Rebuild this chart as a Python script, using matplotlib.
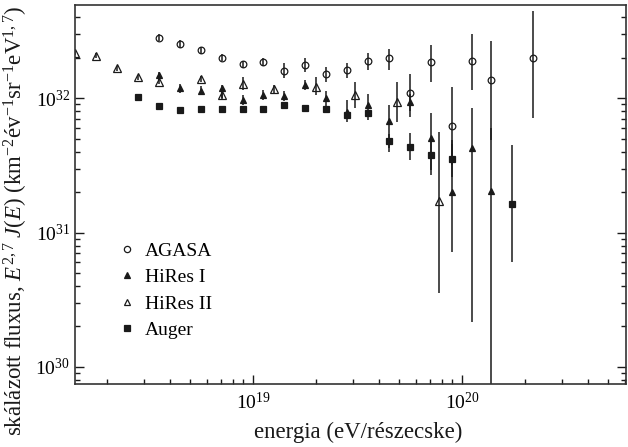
import numpy as np
import matplotlib.pyplot as plt
from matplotlib.lines import Line2D
from matplotlib.ticker import LogLocator, LogFormatterMathtext, NullFormatter

plt.rcParams['font.family'] = ['Liberation Serif', 'DejaVu Serif']
plt.rcParams['mathtext.fontset'] = 'custom'
plt.rcParams['mathtext.rm'] = 'Liberation Serif'
plt.rcParams['mathtext.it'] = 'Liberation Serif:italic'

# log10 of the energy (eV) and flux values
agasa_logE = [18.55, 18.65, 18.75, 18.85, 18.95, 19.05, 19.15, 19.25, 19.35,
              19.45, 19.55, 19.65, 19.75, 19.85, 19.95, 20.05, 20.14, 20.34]
agasa_J = [2.83e32, 2.54e32, 2.29e32, 2.01e32, 1.79e32, 1.87e32, 1.60e32, 1.77e32, 1.52e32,
           1.63e32, 1.90e32, 1.99e32, 1.09e32, 1.85e32, 6.25e31, 1.90e32, 1.37e32, 1.99e32]
agasa_lo = [2.66e32, 2.39e32, 2.15e32, 1.89e32, 1.68e32, 1.75e32, 1.42e32, 1.57e32, 1.32e32,
            1.41e32, 1.63e32, 1.63e32, 7.3e31, 1.33e32, 3.2e31, 1.15e32, 4.9e31, 7.1e31]
agasa_hi = [3.00e32, 2.70e32, 2.43e32, 2.14e32, 1.91e32, 2.00e32, 1.83e32, 2.00e32, 1.71e32,
            1.84e32, 2.16e32, 2.32e32, 1.53e32, 2.49e32, 1.22e32, 3.00e32, 2.67e32, 4.50e32]

hires1_logE = [18.55, 18.65, 18.75, 18.85, 18.95, 19.05, 19.15, 19.25, 19.35,
               19.45, 19.55, 19.65, 19.75, 19.85, 19.95, 20.05, 20.14]
hires1_J = [1.49e32, 1.19e32, 1.14e32, 1.19e32, 9.7e31, 1.06e32, 1.04e32, 1.26e32, 1.0e32,
            7.95e31, 8.9e31, 6.8e31, 9.4e31, 5.1e31, 2.0e31, 4.3e31, 2.04e31]
hires1_lo = [1.37e32, 1.10e32, 1.05e32, 9.7e31, 8.9e31, 9.7e31, 9.5e31, 1.16e32, 8.2e31,
             6.66e31, 6.9e31, 4.0e31, 8.0e31, 2.9e31, 7.2e30, 2.15e30, 3e29]
hires1_hi = [1.58e32, 1.28e32, 1.23e32, 1.26e32, 1.06e32, 1.15e32, 1.13e32, 1.36e32, 1.13e32,
             9.7e31, 1.07e32, 8.9e31, 1.07e32, 7.8e31, 4.9e31, 8.5e31, 6.0e31]

hires2_logE = [18.15, 18.25, 18.35, 18.45, 18.55, 18.75, 18.85, 18.95,
               19.10, 19.30, 19.49, 19.69, 19.89]
hires2_J = [2.19e32, 2.07e32, 1.67e32, 1.43e32, 1.33e32, 1.39e32, 1.06e32, 1.28e32,
            1.17e32, 1.21e32, 1.06e32, 9.44e31, 1.72e31]
hires2_lo = [2.10e32, 1.98e32, 1.60e32, 1.37e32, 1.27e32, 1.32e32, 1.00e32, 1.15e32,
             1.10e32, 1.06e32, 8.42e31, 6.7e31, 3.52e30]
hires2_hi = [2.28e32, 2.16e32, 1.74e32, 1.49e32, 1.39e32, 1.46e32, 1.12e32, 1.44e32,
             1.25e32, 1.44e32, 1.33e32, 1.33e32, 5.64e31]

auger_logE = [18.45, 18.55, 18.65, 18.75, 18.85, 18.95, 19.05, 19.15, 19.25,
              19.35, 19.45, 19.55, 19.65, 19.75, 19.85, 19.95, 20.24]
auger_J = [1.03e32, 8.77e31, 8.19e31, 8.28e31, 8.28e31, 8.28e31, 8.37e31, 8.91e31, 8.42e31,
           8.28e31, 7.51e31, 7.73e31, 4.83e31, 4.36e31, 3.78e31, 3.53e31, 1.63e31]
auger_lo = [1.00e32, 8.55e31, 7.98e31, 8.07e31, 8.07e31, 8.07e31, 8.15e31, 8.65e31, 8.15e31,
            7.95e31, 7.15e31, 7.30e31, 4.30e31, 3.47e31, 2.69e31, 2.60e31, 6.05e30]
auger_hi = [1.06e32, 9.0e31, 8.4e31, 8.5e31, 8.5e31, 8.5e31, 8.6e31, 9.2e31, 8.7e31,
            8.6e31, 7.9e31, 8.2e31, 5.4e31, 5.48e31, 4.9e31, 4.6e31, 4.49e31]

ink = '#1a1a1a'


def draw(ax, logE, J, lo, hi, marker, filled, ms):
    E = 10 ** np.array(logE)
    J = np.array(J)
    err = [J - np.array(lo), np.array(hi) - J]
    ax.errorbar(E, J, yerr=err, fmt=marker, ms=ms, mec=ink,
                mfc=ink if filled else 'none', mew=0.9, ecolor=ink,
                elinewidth=1.1, capsize=0)


fig = plt.figure(figsize=(6.28, 4.47), dpi=100)
ax = fig.add_axes([75 / 628, 1 - 384 / 447, 551 / 628, 378.7 / 447])

draw(ax, agasa_logE, agasa_J, agasa_lo, agasa_hi, 'o', False, 4.8)
draw(ax, hires1_logE, hires1_J, hires1_lo, hires1_hi, '^', True, 5)
draw(ax, hires2_logE, hires2_J, hires2_lo, hires2_hi, '^', False, 6)
draw(ax, auger_logE, auger_J, auger_lo, auger_hi, 's', True, 4.8)

ax.set_xscale('log')
ax.set_yscale('log')
ax.set_xlim(10 ** 18.148, 10 ** 20.785)
ax.set_ylim(7.45e29, 4.93e32)

for a in (ax.xaxis, ax.yaxis):
    a.set_major_locator(LogLocator(base=10))
    a.set_minor_locator(LogLocator(base=10, subs=np.arange(2, 10)))
    a.set_major_formatter(LogFormatterMathtext())
    a.set_minor_formatter(NullFormatter())

ax.tick_params(which='both', direction='in', top=False, right=True,
               color=ink, labelsize=14, width=1)
ax.tick_params(which='major', length=6.5)
ax.tick_params(which='minor', length=3.5)
ax.tick_params(axis='x', pad=6)
for s in ax.spines.values():
    s.set_color('#333333')
    s.set_linewidth(1.2)

fig.text(358 / 628, 1 - 432 / 447, 'energia (eV/részecske)', ha='center', va='center',
         fontsize=16.5, color=ink)
fig.text(16 / 628, 1 - 221 / 447,
         r'skálázott fluxus, $E^{2,7}\;J(E)$ (km$^{-2}$év$^{-1}$sr$^{-1}$eV$^{1,7}$)',
         rotation=90, ha='center', va='center', fontsize=16.5, color=ink)

handles = [
    Line2D([], [], ls='none', marker='o', ms=4.5, mec=ink, mfc='none', mew=0.9),
    Line2D([], [], ls='none', marker='^', ms=4.5, mec=ink, mfc=ink, mew=0.9),
    Line2D([], [], ls='none', marker='^', ms=5, mec=ink, mfc='none', mew=0.9),
    Line2D([], [], ls='none', marker='s', ms=4.5, mec=ink, mfc=ink, mew=0.9),
]
ax.legend(handles, ['AGASA', 'HiRes I', 'HiRes II', 'Auger'],
          loc='upper left', bbox_to_anchor=(0.07, 0.395), frameon=False,
          fontsize=14, handlelength=0.6, handletextpad=0.6, labelspacing=0.45,
          borderaxespad=0)

fig.savefig('out.png', dpi=100)
